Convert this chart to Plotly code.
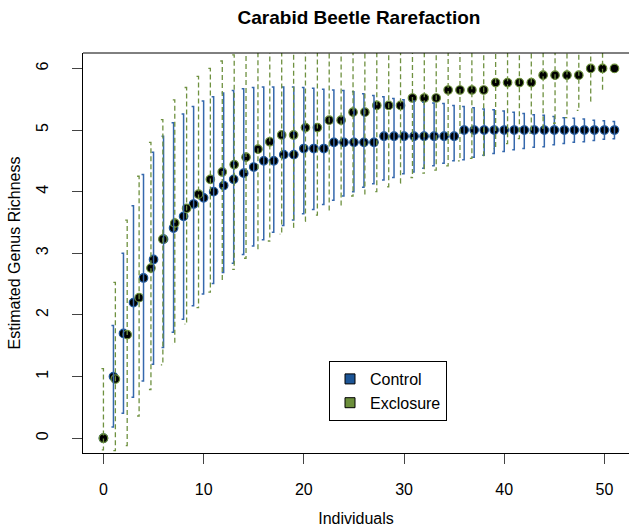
import plotly.graph_objects as go

# ---------------- data ----------------
ctrl_n = [0, 1, 2, 3, 4, 5, 6, 7, 8, 9, 10, 11, 12, 13, 14, 15, 16, 17, 18, 19,
          20, 21, 22, 23, 24, 25, 26, 27, 28, 29, 30, 31, 32, 33, 34, 35, 36, 37,
          38, 39, 40, 41, 42, 43, 44, 45, 46, 47, 48, 49, 50, 51]
ctrl_mean = [0, 1.0, 1.7, 2.2, 2.6, 2.9, 3.23, 3.41, 3.6, 3.8, 3.9, 4.0, 4.1, 4.2,
             4.3, 4.4, 4.5, 4.5, 4.6, 4.6, 4.7, 4.7, 4.7, 4.8, 4.8, 4.8, 4.8, 4.8,
             4.9, 4.9, 4.9, 4.9, 4.9, 4.9, 4.9, 4.9, 5.0, 5.0, 5.0, 5.0, 5.0, 5.0,
             5.0, 5.0, 5.0, 5.0, 5.0, 5.0, 5.0, 5.0, 5.0, 5.0]
ctrl_lower = [0, 0.18, 0.405, 0.665, 0.93, 1.20, 1.47, 1.72, 1.93, 2.15, 2.34, 2.51,
              2.69, 2.84, 2.98, 3.12, 3.22, 3.34, 3.45, 3.54, 3.64, 3.71, 3.79, 3.86,
              3.93, 4.00, 4.07, 4.13, 4.19, 4.23, 4.29, 4.32, 4.38, 4.42, 4.46, 4.50,
              4.52, 4.56, 4.59, 4.62, 4.65, 4.68, 4.70, 4.72, 4.73, 4.76, 4.78, 4.80,
              4.81, 4.83, 4.85, 4.86]
ctrl_upper = [0, 1.83, 3.0, 3.77, 4.28, 4.64, 4.90, 5.12, 5.26, 5.38, 5.47, 5.54,
              5.60, 5.64, 5.67, 5.69, 5.70, 5.70, 5.70, 5.70, 5.69, 5.68, 5.66, 5.65,
              5.64, 5.62, 5.59, 5.56, 5.54, 5.51, 5.49, 5.47, 5.45, 5.44, 5.43, 5.40,
              5.38, 5.36, 5.34, 5.33, 5.31, 5.29, 5.27, 5.25, 5.24, 5.22, 5.20, 5.19,
              5.18, 5.16, 5.15, 5.14]

excl_n = [0, 1.19, 2.37, 3.56, 4.74, 5.93, 7.12, 8.30, 9.49, 10.67, 11.86, 13.05,
          14.23, 15.42, 16.60, 17.79, 18.98, 20.16, 21.35, 22.53, 23.72, 24.91,
          26.09, 27.28, 28.47, 29.65, 30.84, 32.02, 33.21, 34.40, 35.58, 36.77,
          37.95, 39.14, 40.33, 41.51, 42.70, 43.88, 45.07, 46.26, 47.44, 48.63,
          49.81, 51.0]
excl_mean = [0, 0.96, 1.68, 2.28, 2.76, 3.23, 3.49, 3.73, 3.96, 4.20, 4.32, 4.44,
             4.56, 4.69, 4.81, 4.92, 4.92, 5.04, 5.04, 5.16, 5.16, 5.29, 5.29, 5.40,
             5.40, 5.40, 5.52, 5.52, 5.52, 5.65, 5.65, 5.65, 5.65, 5.77, 5.77, 5.77,
             5.77, 5.89, 5.89, 5.89, 5.89, 6.0, 6.0, 6.0]
excl_lower = [-0.19, -0.2, -0.12, 0.36, 0.79, 1.19, 1.53, 1.85, 2.12, 2.37, 2.56,
              2.74, 2.92, 3.05, 3.20, 3.31, 3.42, 3.52, 3.62, 3.69, 3.77, 3.93, 3.95,
              4.00, 4.08, 4.14, 4.23, 4.30, 4.35, 4.42, 4.50, 4.54, 4.57, 4.70, 4.78,
              4.86, 4.95, 5.03, 5.11, 5.20, 5.32, 5.47, 5.64, 6.0]
excl_upper = [1.13, 2.53, 3.54, 4.25, 4.80, 5.17, 5.49, 5.69, 5.87, 6.0, 6.12, 6.22,
              6.30, 6.36, 6.42, 6.50, 6.45, 6.55, 6.50, 6.60, 6.55, 6.65, 6.60, 6.75,
              6.70, 6.65, 6.80, 6.75, 6.70, 6.90, 6.80, 6.75, 6.70, 6.85, 6.75, 6.70,
              6.60, 6.75, 6.65, 6.60, 6.45, 6.55, 6.35, 6.0]

x_ticks = [0, 10, 20, 30, 40, 50]
y_ticks = [0, 1, 2, 3, 4, 5, 6]

# ---------------- style ----------------
FONT = "Liberation Sans, Arial, Helvetica, sans-serif"
CTRL = "#1c5596"
CTRL_BAR = "#3568ad"
EXCL = "#6b8e3b"
EXCL_BAR = "#6f9140"
CAP = 0.2  # small left-hand cap, in data units


def bar_path(xs, lo, hi):
    px, py = [], []
    for x, l, h in zip(xs, lo, hi):
        if h - l <= 0:
            continue
        px += [x - CAP, x, x, x - CAP, None]
        py += [h, h, l, l, None]
    return px, py


fig = go.Figure()

fig.add_trace(go.Scatter(
    x=ctrl_n, y=ctrl_mean, mode="markers", showlegend=False, name="Control",
    marker=dict(size=8.5, color="black", line=dict(color=CTRL, width=1.2))))
fig.add_trace(go.Scatter(
    x=excl_n, y=excl_mean, mode="markers", showlegend=False, name="Exclosure",
    marker=dict(size=8.5, color="black", line=dict(color=EXCL, width=1.2))))

cx, cy = bar_path(ctrl_n, ctrl_lower, ctrl_upper)
fig.add_trace(go.Scatter(
    x=cx, y=cy, mode="lines", showlegend=False, hoverinfo="skip",
    line=dict(color=CTRL_BAR, width=1.5)))
ex, ey = bar_path(excl_n, excl_lower, excl_upper)
fig.add_trace(go.Scatter(
    x=ex, y=ey, mode="lines", showlegend=False, hoverinfo="skip",
    line=dict(color=EXCL_BAR, width=1.3, dash="5px,3px")))

# legend entries
fig.add_trace(go.Scatter(
    x=[None], y=[None], mode="markers", name="Control",
    marker=dict(symbol="square", size=10, color=CTRL, line=dict(color="black", width=1))))
fig.add_trace(go.Scatter(
    x=[None], y=[None], mode="markers", name="Exclosure",
    marker=dict(symbol="square", size=10, color=EXCL, line=dict(color="black", width=1))))

axis_common = dict(
    showgrid=False, zeroline=False, showline=True, linecolor="black", linewidth=1,
    ticks="outside", ticklen=10, tickwidth=1, tickcolor="#444",
    tickfont=dict(family=FONT, size=16, color="black"),
)

fig.update_layout(
    width=629, height=531, autosize=False,
    margin=dict(l=83, r=0, t=53, b=78, pad=0),
    paper_bgcolor="white", plot_bgcolor="white",
    font=dict(family=FONT, size=16, color="black"),
    title=dict(text="Carabid Beetle Rarefaction", x=359 / 629, xanchor="center",
               xref="container", yref="container", y=1 - 17 / 531, yanchor="middle",
               font=dict(family=FONT, size=19, color="black", weight="bold")),
    xaxis=dict(range=[-2.04, 52.45], tickvals=x_ticks, ticklabelstandoff=12,
               title=dict(text="Individuals", standoff=15,
                          font=dict(family=FONT, size=16, color="black")),
               **axis_common),
    yaxis=dict(range=[-0.24, 6.25], tickvals=y_ticks, tickangle=-90,
               ticklabelstandoff=18,
               title=dict(text="Estimated Genus Richness", standoff=8,
                          font=dict(family=FONT, size=16, color="black")),
               **axis_common),
    legend=dict(x=(329 - 83) / 546, y=(453 - 361) / 400, xanchor="left", yanchor="top",
                bordercolor="black", borderwidth=1, bgcolor="white",
                tracegroupgap=0,
                font=dict(family=FONT, size=16, color="black")),
    shapes=[dict(type="line", xref="paper", yref="paper", x0=0, x1=1.05, y0=1, y1=1,
                 line=dict(color="black", width=1))],
)

fig.write_html("out.html")
